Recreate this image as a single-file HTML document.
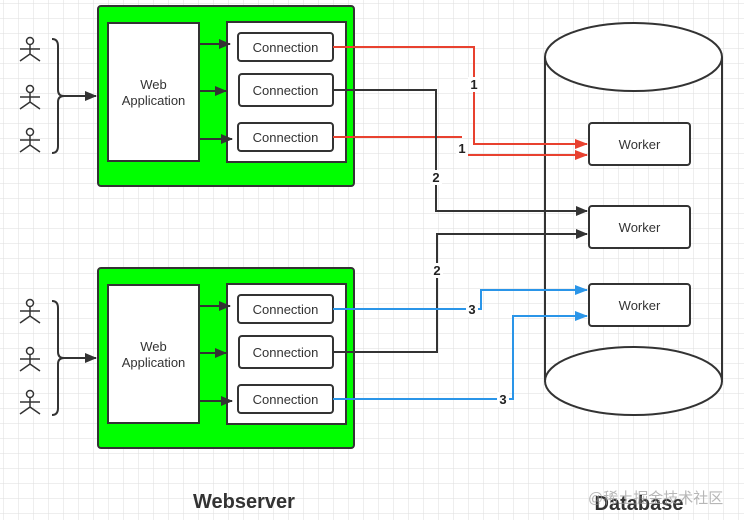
<!DOCTYPE html>
<html><head><meta charset="utf-8"><style>
html,body{margin:0;padding:0;width:744px;height:520px;overflow:hidden;background:#fff}
svg{display:block}
text{font-family:"Liberation Sans","Noto Sans CJK SC",sans-serif}
</style></head><body>
<svg width="744" height="520" viewBox="0 0 744 520" xmlns="http://www.w3.org/2000/svg">
<defs>
<pattern id="g" width="15" height="15" patternUnits="userSpaceOnUse" x="3" y="3">
<path d="M15 0H0V15" fill="none" stroke="#dedede" stroke-width="1"/>
</pattern>
<marker id="ak" markerWidth="12" markerHeight="10" refX="11" refY="5" orient="auto" markerUnits="userSpaceOnUse"><path d="M0 0L12 5L0 10z" fill="#333"/></marker>
<marker id="ar" markerWidth="13" markerHeight="10" refX="12" refY="5" orient="auto" markerUnits="userSpaceOnUse"><path d="M0 0L13 5L0 10z" fill="#e8412f"/></marker>
<marker id="ab" markerWidth="13" markerHeight="10" refX="12" refY="5" orient="auto" markerUnits="userSpaceOnUse"><path d="M0 0L13 5L0 10z" fill="#2a95e8"/></marker>
<g id="actor" fill="none" stroke="#333" stroke-width="1.5">
<circle cx="0" cy="-9" r="3.5"/><path d="M0 -5.5V4M-10 -1H10M0 4L-10 11M0 4L10 11"/>
</g>
</defs>
<rect width="744" height="520" fill="url(#g)"/>

<g>
<rect x="98" y="6" width="256" height="180" rx="3" fill="#00ff00" stroke="#333" stroke-width="2"/>
<rect x="108" y="23" width="91" height="138" fill="#fff" stroke="#333" stroke-width="2"/>
<text x="153.5" y="89" font-size="13" fill="#333" text-anchor="middle">Web</text>
<text x="153.5" y="105" font-size="13" fill="#333" text-anchor="middle">Application</text>
<rect x="227" y="22" width="119" height="140" fill="#fff" stroke="#333" stroke-width="2"/>
<rect x="238" y="33" width="95" height="28" rx="3" fill="#fff" stroke="#333" stroke-width="2"/>
<rect x="239" y="74" width="94" height="32" rx="3" fill="#fff" stroke="#333" stroke-width="2"/>
<rect x="238" y="123" width="95" height="28" rx="3" fill="#fff" stroke="#333" stroke-width="2"/>
<text x="285.5" y="52" font-size="13" fill="#333" text-anchor="middle">Connection</text>
<text x="285.5" y="95" font-size="13" fill="#333" text-anchor="middle">Connection</text>
<text x="285.5" y="142" font-size="13" fill="#333" text-anchor="middle">Connection</text>
<g stroke="#333" stroke-width="2">
<line x1="199" y1="44" x2="230" y2="44" marker-end="url(#ak)"/>
<line x1="199" y1="91" x2="226" y2="91" marker-end="url(#ak)"/>
<line x1="199" y1="139" x2="232" y2="139" marker-end="url(#ak)"/>
</g>
<use href="#actor" x="30" y="50"/>
<use href="#actor" x="30" y="98"/>
<use href="#actor" x="30" y="141"/>
<path d="M52 39Q58 39 58 46V90Q58 96 64 96Q58 96 58 102V146Q58 153 52 153" fill="none" stroke="#333" stroke-width="2"/>
<line x1="62" y1="96" x2="96" y2="96" stroke="#333" stroke-width="2" marker-end="url(#ak)"/>
</g>

<g transform="translate(0,262)">
<rect x="98" y="6" width="256" height="180" rx="3" fill="#00ff00" stroke="#333" stroke-width="2"/>
<rect x="108" y="23" width="91" height="138" fill="#fff" stroke="#333" stroke-width="2"/>
<text x="153.5" y="89" font-size="13" fill="#333" text-anchor="middle">Web</text>
<text x="153.5" y="105" font-size="13" fill="#333" text-anchor="middle">Application</text>
<rect x="227" y="22" width="119" height="140" fill="#fff" stroke="#333" stroke-width="2"/>
<rect x="238" y="33" width="95" height="28" rx="3" fill="#fff" stroke="#333" stroke-width="2"/>
<rect x="239" y="74" width="94" height="32" rx="3" fill="#fff" stroke="#333" stroke-width="2"/>
<rect x="238" y="123" width="95" height="28" rx="3" fill="#fff" stroke="#333" stroke-width="2"/>
<text x="285.5" y="52" font-size="13" fill="#333" text-anchor="middle">Connection</text>
<text x="285.5" y="95" font-size="13" fill="#333" text-anchor="middle">Connection</text>
<text x="285.5" y="142" font-size="13" fill="#333" text-anchor="middle">Connection</text>
<g stroke="#333" stroke-width="2">
<line x1="199" y1="44" x2="230" y2="44" marker-end="url(#ak)"/>
<line x1="199" y1="91" x2="226" y2="91" marker-end="url(#ak)"/>
<line x1="199" y1="139" x2="232" y2="139" marker-end="url(#ak)"/>
</g>
<use href="#actor" x="30" y="50"/>
<use href="#actor" x="30" y="98"/>
<use href="#actor" x="30" y="141"/>
<path d="M52 39Q58 39 58 46V90Q58 96 64 96Q58 96 58 102V146Q58 153 52 153" fill="none" stroke="#333" stroke-width="2"/>
<line x1="62" y1="96" x2="96" y2="96" stroke="#333" stroke-width="2" marker-end="url(#ak)"/>
</g>

<path d="M545 57V380M722 57V380" stroke="#333" stroke-width="2"/>
<ellipse cx="633.5" cy="57" rx="88.5" ry="34" fill="#fff" stroke="#333" stroke-width="2"/>
<ellipse cx="633.5" cy="381" rx="88.5" ry="34" fill="#fff" stroke="#333" stroke-width="2"/>

<g fill="#fff" stroke="#333" stroke-width="2">
<rect x="589" y="123" width="101" height="42" rx="3"/>
<rect x="589" y="206" width="101" height="42" rx="3"/>
<rect x="589" y="284" width="101" height="42" rx="3"/>
</g>
<g font-size="13" fill="#333" text-anchor="middle">
<text x="639.5" y="149">Worker</text>
<text x="639.5" y="232">Worker</text>
<text x="639.5" y="310">Worker</text>
</g>

<g fill="none" stroke-width="2">
<path d="M333 47H474V144H587" stroke="#e8412f" marker-end="url(#ar)"/>
<path d="M333 137H462" stroke="#e8412f"/>
<path d="M467 155H587" stroke="#e8412f" marker-end="url(#ar)"/>
<path d="M333 90H436V211H587" stroke="#333" marker-end="url(#ak)"/>
<path d="M333 352H437V234H587" stroke="#333" marker-end="url(#ak)"/>
<path d="M333 309H481V290H587" stroke="#2a95e8" marker-end="url(#ab)"/>
<path d="M333 399H513V316H587" stroke="#2a95e8" marker-end="url(#ab)"/>
</g>
<g font-size="13" font-weight="bold" fill="#222" text-anchor="middle">
<rect x="468" y="77" width="12" height="15" fill="#fff"/><text x="474" y="89">1</text>
<rect x="456" y="141" width="12" height="15" fill="#fff"/><text x="462" y="153">1</text>
<rect x="430" y="170" width="12" height="15" fill="#fff"/><text x="436" y="182">2</text>
<rect x="431" y="263" width="12" height="15" fill="#fff"/><text x="437" y="275">2</text>
<rect x="466" y="302" width="12" height="15" fill="#fff"/><text x="472" y="314">3</text>
<rect x="497" y="392" width="12" height="15" fill="#fff"/><text x="503" y="404">3</text>
</g>

<text x="244" y="508" font-size="20" font-weight="bold" fill="#333" text-anchor="middle">Webserver</text>
<text x="639" y="510" font-size="20" font-weight="bold" fill="#333" text-anchor="middle">Database</text>
<text x="588" y="503" font-size="15" fill="#999" fill-opacity="0.7">@稀土掘金技术社区</text>
</svg>
</body></html>
